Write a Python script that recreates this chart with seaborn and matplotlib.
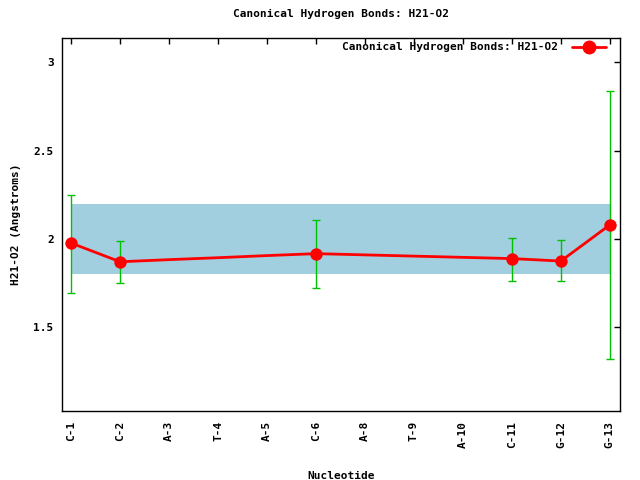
import matplotlib
matplotlib.use("Agg")
import matplotlib.pyplot as plt
from matplotlib.lines import Line2D
import pandas as pd
import seaborn as sns

# Data
nucleotides = ["C-1", "C-2", "A-3", "T-4", "A-5", "C-6", "A-8", "T-9", "A-10", "C-11", "G-12", "G-13"]
distance = [1.977, 1.871, 1.883, 1.894, 1.906, 1.917, 1.910, 1.903, 1.896, 1.889, 1.875, 2.080]
has_point = [True, True, False, False, False, True, False, False, False, True, True, True]
err_low = [1.695, 1.750, None, None, None, 1.720, None, None, None, 1.762, 1.762, 1.320]
err_high = [2.250, 1.990, None, None, None, 2.110, None, None, None, 2.004, 1.993, 2.835]
band_low, band_high = 1.8, 2.2
title = "Canonical Hydrogen Bonds: H21-O2"

df = pd.DataFrame({"nuc": nucleotides, "x": range(len(nucleotides)), "d": distance,
                   "pt": has_point, "lo": err_low, "hi": err_high})
pts = df[df["pt"]]

sns.set_style("white")
plt.rcParams["font.family"] = ["DejaVu Sans Mono"]
plt.rcParams["font.weight"] = "bold"
plt.rcParams["text.color"] = "black"
plt.rcParams["axes.labelcolor"] = "black"

fig = plt.figure(figsize=(6.4, 4.8), dpi=100)
ax = fig.add_axes([0.097, 0.144, 0.872, 0.777])

# reference band
ax.fill_between([df["x"].min(), df["x"].max()], band_low, band_high,
                color="#a2cfdf", linewidth=0, zorder=1)

# error bars
ax.errorbar(pts["x"], pts["d"], yerr=[pts["d"] - pts["lo"], pts["hi"] - pts["d"]],
            fmt="none", ecolor="#00c000", elinewidth=1, capsize=3, capthick=1, zorder=2)

sns.lineplot(data=df, x="x", y="d", ax=ax, color="red", linewidth=2, zorder=3)
sns.scatterplot(data=pts, x="x", y="d", ax=ax, color="red", s=80, edgecolor="red",
                linewidth=0, zorder=4)

ax.set_xlim(-0.184, 11.21)
ax.set_ylim(1.027, 3.138)
ax.set_xticks(df["x"])
ax.set_xticklabels(nucleotides, rotation=90, fontsize=8, fontweight="bold")
ax.set_yticks([1.5, 2, 2.5, 3])
ax.set_yticklabels(["1.5", "2", "2.5", "3"], fontsize=8, fontweight="bold")
ax.tick_params(direction="in", length=4, width=1, top=True, right=True,
               colors="black", pad=6)
ax.tick_params(axis="x", pad=7)
for s in ax.spines.values():
    s.set_color("black")
    s.set_linewidth(1)

ax.set_xlabel("Nucleotide", fontsize=8, fontweight="bold", labelpad=17)
ax.set_ylabel("H21-O2 (Angstroms)", fontsize=8, fontweight="bold", labelpad=9)
ax.set_title(title, fontsize=8, fontweight="bold", pad=15)

handle = Line2D([], [], color="red", linewidth=2, marker="o", markersize=9)
leg = ax.legend([handle], [title], loc="upper right", bbox_to_anchor=(0.983, 1.0),
                frameon=False, fontsize=8, markerfirst=False, handlelength=3.05,
                handletextpad=1.25, borderaxespad=0)
for t in leg.get_texts():
    t.set_fontweight("bold")

fig.savefig("out.png", dpi=100)
